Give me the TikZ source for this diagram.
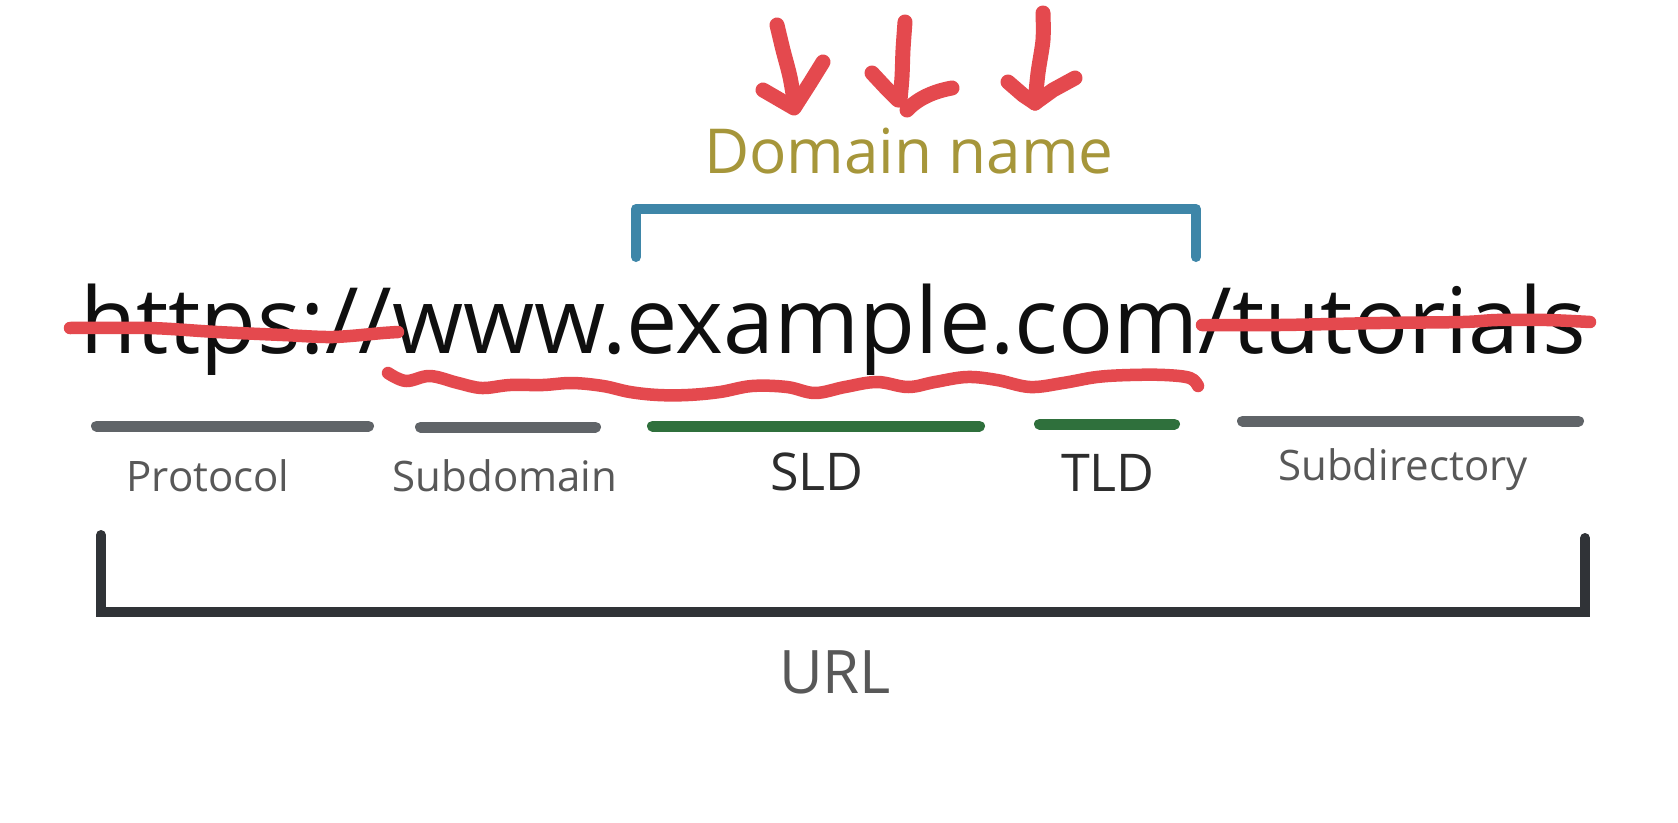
\documentclass[tikz,border=0pt]{standalone}
\usepackage{fontspec}
\setmainfont{Open Sans}
\definecolor{penred}{RGB}{228,73,78}
\definecolor{olive}{RGB}{166,150,58}
\definecolor{brblue}{RGB}{62,134,168}
\definecolor{bargray}{RGB}{96,100,104}
\definecolor{bargreen}{RGB}{47,112,60}
\definecolor{lblgray}{RGB}{88,88,88}
\definecolor{lbldark}{RGB}{45,45,45}
\definecolor{brdark}{RGB}{48,51,55}
\tikzset{
  pen/.style={draw=penred, line width=15pt, line cap=round, line join=round},
  thinpen/.style={draw=penred, line width=12.5pt, line cap=round, line join=round},
  bar/.style={line width=11pt, line cap=round},
  lbl/.style={anchor=base, inner sep=0pt, text=lblgray, font=\fontsize{42}{50}\selectfont},
  lblbig/.style={anchor=base, inner sep=0pt, text=lbldark, font=\fontsize{52}{60}\selectfont},
}
\begin{document}
\begin{tikzpicture}[x=1pt,y=-1pt]
\useasboundingbox[fill=white] (0,0) rectangle (1678,822);
% main text
\node[anchor=base west, inner sep=0pt, text={rgb,255:red,15;green,15;blue,15}, font=\fontsize{91.5}{100}\selectfont] (url) at (80,353) {https://www.example.com/tutorials};
% domain name
\node[anchor=base, inner sep=0pt, text=olive, font=\fontsize{62}{70}\selectfont] (dom) at (909,173) {Domain name};
% blue bracket
\coordinate (bl) at (636,257); \coordinate (br) at (1196,257);
\draw[brblue, line width=10pt, line cap=round, line join=round] (bl) -- (636,209) -- (1196,209) -- (br);
% red arrows
\draw[pen] plot[smooth] coordinates {(777,25) (783,50) (790,77) (795,106)};
\draw[pen] (763,90) -- (794,108) -- (810,83) -- (823,62);
\draw[pen] plot[smooth] coordinates {(905,22) (903,50) (902,77) (900,100)};
\draw[pen] (872,73) -- (886,88) -- (898,100);
\draw[pen] (907,110) .. controls (918,98) and (935,91) .. (952,88);
\draw[pen] plot[smooth] coordinates {(1043,13) (1043,40) (1038,73) (1035,103)};
\draw[pen] (1008,82) -- (1023,95) -- (1035,103);
\draw[pen] (1035,103) -- (1053,90) -- (1075,78);
% strike-throughs
\draw[thinpen] plot[smooth] coordinates {(70,328) (150,328) (217,332) (283,335) (333,337) (383,333) (398,332)};
\draw[thinpen] plot[smooth] coordinates {(1202,325) (1280,325) (1380,323) (1463,322) (1497,320) (1547,320) (1590,322)};
% wavy underline
\draw[thinpen] plot[smooth, tension=0.6] coordinates {(388,373) (406,381) (430,376) (458,383) (482,388) (510,385) (543,385) (572,383) (603,386) (630,392) (658,395) (688,395) (720,392) (752,386) (787,387) (815,393) (845,387) (877,382) (908,387) (935,382) (967,377) (997,380) (1030,387) (1063,383) (1097,377) (1130,375) (1165,375) (1190,378) (1198,386)};
% bars
\draw[bar, bargray] (96.5,426) -- (368.5,426);
\draw[bar, bargray] (420.5,427) -- (595.5,427);
\draw[bar, bargreen] (652.5,426) -- (979.5,426);
\draw[bar, bargreen] (1039.5,424) -- (1174.5,424);
\draw[bar, bargray] (1242.5,421) -- (1578.5,421);
% labels
\node[lbl] (proto) at (208,491) {Protocol};
\node[lbl] (sub) at (505,491) {Subdomain};
\node[lblbig] (sld) at (817,490) {SLD};
\node[lblbig] (tld) at (1108,491) {TLD};
\node[lbl] (subdir) at (1403,480) {Subdirectory};
% URL bracket
\coordinate (ul) at (101,535); \coordinate (ur) at (1585,538);
\draw[brdark, line width=10pt, line cap=round, line join=miter] (ul) -- (101,612) -- (1585,612) -- (ur);
\node[anchor=base, inner sep=0pt, text=lblgray, font=\fontsize{60}{70}\selectfont] (urllbl) at (835,693) {URL};
\end{tikzpicture}
\end{document}
